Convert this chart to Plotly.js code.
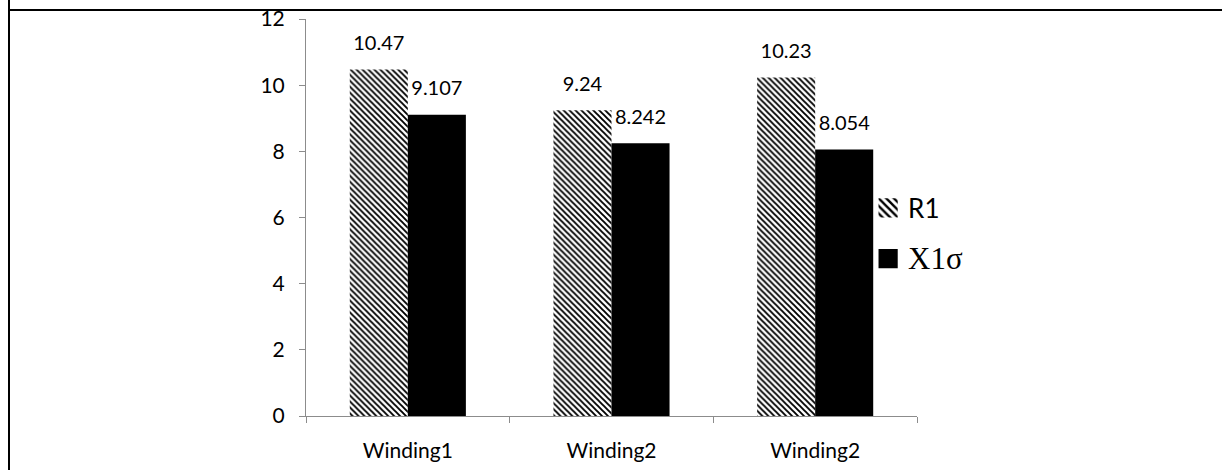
<!DOCTYPE html>
<html>
<head>
<meta charset="utf-8">
<script src="https://cdn.plot.ly/plotly-3.0.1.min.js"></script>
<style>
  html, body { margin: 0; padding: 0; background: #fff; }
  #wrap { position: relative; width: 1222px; height: 470px; overflow: hidden; }
  #chart { width: 1222px; height: 470px; }
  .frame { position: absolute; background: #000; pointer-events: none; }
</style>
</head>
<body>
<div id="wrap">
  <div id="chart"></div>
  <div class="frame" style="left:8px; top:0; width:2px; height:470px;"></div>
  <div class="frame" style="left:8px; top:9px; width:1214px; height:2px;"></div>
</div>
<script>
const categories = ['Winding1', 'Winding2', 'Winding2 '];
const categoryLabels = ['Winding1', 'Winding2', 'Winding2'];
const seriesNames = ['R1', '<span style="font-family:\'Liberation Serif\', serif; font-size:31px">X1σ</span>'];
const r1Values = [10.47, 9.24, 10.23];
const x1Values = [9.107, 8.242, 8.054];
const r1Labels = ['10.47', '9.24', '10.23'];
const x1Labels = ['9.107', '8.242', '8.054'];
const yTicks = [0, 2, 4, 6, 8, 10, 12];

const font = "Lato, 'Open Sans', sans-serif";
const fs = 21;

function labelTrace(values, labels, group) {
  return {
    type: 'scatter',
    mode: 'markers+text',
    x: categories,
    y: values,
    text: labels,
    textposition: 'top center',
    textfont: { family: font, size: 20, color: '#000' },
    marker: { size: 22, opacity: 0, color: '#fff' },
    offsetgroup: group,
    showlegend: false,
    cliponaxis: false,
    hoverinfo: 'none'
  };
}

const traces = [
  {
    type: 'bar',
    name: seriesNames[0],
    legendgroup: 'a',
    offsetgroup: 'a',
    x: categories,
    y: r1Values,
    marker: {
      color: '#ffffff',
      line: { width: 0 },
      pattern: { shape: '\\', fgcolor: '#000', bgcolor: '#fff', size: 4.2, solidity: 0.45, fillmode: 'replace' }
    },
    hoverinfo: 'none'
  },
  {
    type: 'bar',
    name: seriesNames[1],
    legendgroup: 'b',
    offsetgroup: 'b',
    x: categories,
    y: x1Values,
    marker: { color: '#000', line: { width: 0 } },
    hoverinfo: 'none'
  },
  labelTrace(r1Values, r1Labels, 'a'),
  labelTrace(x1Values, x1Labels, 'b')
];

const layout = {
  width: 1222,
  height: 470,
  margin: { l: 306, r: 305, t: 19, b: 54, pad: 0 },
  paper_bgcolor: '#fff',
  plot_bgcolor: '#fff',
  barmode: 'group',
  scattermode: 'group',
  bargap: 0.43,
  scattergap: 0.43,
  bargroupgap: 0,
  showlegend: true,
  legend: {
    x: 0.92, xanchor: 'left',
    y: 0.46, yanchor: 'middle',
    font: { family: font, size: 26, color: '#000' },
    bgcolor: 'rgba(0,0,0,0)',
    traceorder: 'grouped',
    itemwidth: 30,
    tracegroupgap: 14
  },
  xaxis: {
    type: 'category',
    tickvals: categories,
    ticktext: categoryLabels,
    showline: true,
    linecolor: '#8c8c8c',
    linewidth: 1,
    ticks: 'outside',
    tickson: 'boundaries',
    ticklen: 6,
    tickcolor: '#8c8c8c',
    showgrid: false,
    zeroline: false,
    tickfont: { family: font, size: fs, color: '#000' },
    ticklabelstandoff: 16,
    fixedrange: true
  },
  yaxis: {
    range: [0, 12],
    tickvals: yTicks,
    ticktext: yTicks.map(String),
    showline: true,
    linecolor: '#8c8c8c',
    linewidth: 1,
    ticks: 'outside',
    ticklen: 6,
    tickcolor: '#8c8c8c',
    showgrid: false,
    zeroline: false,
    tickfont: { family: font, size: fs, color: '#000' },
    ticklabelstandoff: 10,
    fixedrange: true
  }
};

Plotly.newPlot('chart', traces, layout, { displayModeBar: false, staticPlot: true }).then(function (gd) {
  gd.querySelectorAll('.legend .legendpoints path').forEach(function (p) {
    var t = p.getAttribute('transform') || '';
    p.setAttribute('transform', t + ' scale(1.6)');
  });
});
</script>
</body>
</html>
